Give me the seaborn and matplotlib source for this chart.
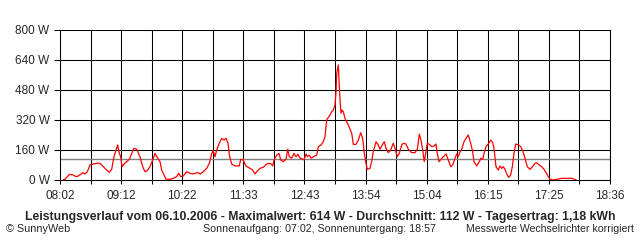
import matplotlib
matplotlib.use("Agg")
import matplotlib.pyplot as plt
import seaborn as sns
import pandas as pd
import numpy as np

# minutes since midnight
minutes = [485.5, 487.8, 492.7, 497.3, 500.4, 503.1, 508.2, 510.8, 513.5, 516.6,
           520.4, 524.3, 528.1, 531.9, 535.8, 538.8, 541.6, 544.2, 546.6, 548.5,
           550.4, 552.0, 553.5, 555.8, 558.9, 561.9, 564.7, 567.3, 570.4, 574.2,
           577.3, 580.0, 582.6, 585.7, 588.9, 591.5, 593.5, 597.3, 599.2, 601.9,
           604.2, 608.8, 612.6, 616.5, 618.8, 621.1, 624.1, 628.0, 631.9, 635.0,
           637.6, 641.4, 643.4, 647.2, 651.1, 654.1, 656.9, 658.7, 660.7, 662.6,
           665.6, 668.4, 671.0, 673.4, 675.7, 677.2, 679.9, 683.7, 688.7, 690.3,
           693.3, 696.1, 701.0, 704.1, 706.8, 708.7, 712.5, 716.4, 720.3, 722.9,
           725.6, 727.2, 728.7, 731.8, 734.5, 736.4, 739.4, 742.5, 744.5, 746.3,
           749.1, 751.7, 754.0, 756.3, 758.7, 761.8, 763.3, 765.6, 767.1, 769.4,
           771.3, 774.0, 777.9, 779.8, 782.9, 785.5, 787.5, 789.4, 793.2, 795.2,
           797.0, 799.0, 800.2, 801.0, 802.1, 802.8, 803.6, 804.8, 805.9, 807.1,
           808.6, 810.5, 814.3, 818.3, 820.1, 823.2, 825.9, 828.6, 830.9, 832.8,
           834.7, 836.2, 839.3, 841.3, 843.1, 846.3, 848.9, 850.9, 853.5, 855.8,
           857.8, 860.4, 863.2, 866.2, 868.2, 870.8, 873.1, 875.9, 877.7, 880.8,
           883.5, 887.4, 891.2, 893.9, 896.2, 898.1, 900.1, 901.9, 903.9, 905.4,
           907.7, 910.5, 913.1, 915.4, 916.9, 918.9, 921.2, 923.8, 927.0, 929.6,
           932.4, 934.7, 937.3, 939.3, 941.1, 943.1, 945.1, 947.7, 950.0, 952.7,
           955.4, 957.7, 959.2, 962.3, 965.3, 967.3, 969.3, 970.8, 973.1, 975.7,
           978.5, 980.8, 982.3, 984.6, 987.2, 989.2, 991.2, 993.0, 995.0, 996.9,
           999.2, 1001.5, 1003.4, 1005.3, 1007.3, 1010.3, 1013.1, 1015.4, 1018.0, 1020.7,
           1023.8, 1026.9, 1029.5, 1031.5, 1034.5, 1037.3, 1039.9, 1042.2, 1044.9, 1046.8,
           1050.6, 1055.3, 1060.3, 1066.1, 1071.9, 1074.5, 1076.8]

watts = [0, 4, 30, 27, 18, 21, 39, 32, 44, 80,
         85, 89, 89, 71, 53, 41, 57, 124, 160, 187,
         142, 124, 71, 85, 98, 110, 142, 169, 164, 124,
         71, 44, 50, 71, 107, 142, 124, 98, 53, 27,
         4, 4, 9, 18, 36, 18, 21, 44, 36, 32,
         36, 39, 32, 44, 62, 89, 142, 156, 124, 160,
         196, 222, 213, 222, 196, 133, 85, 75, 75, 110,
         107, 75, 62, 53, 32, 44, 62, 68, 85, 89,
         85, 75, 107, 133, 142, 107, 98, 110, 164, 124,
         116, 142, 124, 137, 116, 112, 107, 139, 124, 133,
         116, 124, 133, 178, 187, 204, 231, 320, 347, 364,
         373, 400, 471, 569, 596, 614, 533, 427, 356, 373,
         364, 329, 293, 249, 190, 190, 213, 252, 222, 142,
         89, 57, 62, 98, 151, 204, 187, 164, 187, 204,
         169, 146, 160, 196, 169, 124, 142, 187, 196, 192,
         164, 146, 146, 164, 245, 213, 160, 98, 151, 196,
         190, 178, 181, 192, 142, 98, 110, 124, 139, 107,
         71, 80, 116, 139, 124, 151, 164, 204, 222, 240,
         196, 151, 98, 75, 98, 116, 110, 142, 178, 192,
         213, 199, 169, 71, 53, 75, 62, 71, 57, 32,
         14, 27, 71, 142, 192, 187, 178, 156, 116, 71,
         57, 71, 89, 92, 80, 71, 57, 39, 18, 4,
         0, 4, 9, 9, 9, 5, 0]

tick_labels = ["08:02", "09:12", "10:22", "11:33", "12:43", "13:54",
               "15:04", "16:15", "17:25", "18:36"]
y_ticks = [0, 160, 320, 480, 640, 800]
y_tick_labels = ["0 W", "160 W", "320 W", "480 W", "640 W", "800 W"]
average_w = 112
start_min = 482
end_min = 1116

title = ("Leistungsverlauf vom 06.10.2006 - Maximalwert: 614 W - "
         "Durchschnitt: 112 W - Tagesertrag: 1,18 kWh")
footer_left = "© SunnyWeb"
footer_mid = "Sonnenaufgang: 07:02, Sonnenuntergang: 18:57"
footer_right = "Messwerte Wechselrichter korrigiert"

sns.set_style("white")
plt.rcParams['font.family'] = ['Liberation Sans', 'DejaVu Sans']

df = pd.DataFrame({"t": minutes, "w": watts})

fig = plt.figure(figsize=(6.4, 2.4), dpi=100)
fig.patch.set_facecolor("white")
ax = fig.add_axes([60 / 640, 60 / 240, 550 / 640, 150 / 240])
ax.set_facecolor("white")

major = np.linspace(start_min, end_min, len(tick_labels))
minor = (major[:-1] + major[1:]) / 2

ax.set_xlim(start_min, end_min)
ax.set_ylim(0, 800)
ax.set_xticks(major)
ax.set_xticklabels(tick_labels)
ax.set_xticks(minor, minor=True)
ax.set_yticks(y_ticks)
ax.set_yticklabels(y_tick_labels)

lw = 0.75
ax.grid(True, which="both", axis="x", color="black", linewidth=lw)
ax.grid(True, which="major", axis="y", color="black", linewidth=lw)
ax.set_axisbelow(True)
for s in ax.spines.values():
    s.set_color("black")
    s.set_linewidth(lw)

ax.tick_params(axis="x", which="both", length=3, width=lw, color="black",
               direction="out", pad=4, labelsize=8.5, bottom=True)
ax.tick_params(axis="y", which="major", length=4.5, width=lw, color="black",
               direction="out", pad=3, labelsize=8.5, left=True)

ax.axhline(average_w, color="#808080", linewidth=1.0, zorder=2)
sns.lineplot(data=df, x="t", y="w", ax=ax, color="#ff0000", linewidth=0.9,
             zorder=3, estimator=None, sort=False)
ax.set_xlabel("")
ax.set_ylabel("")

fig.text(0.5, 23 / 240, title, ha="center", va="center", fontsize=8.8,
         fontweight="bold")
fig.text(6 / 640, 11 / 240, footer_left, ha="left", va="center", fontsize=7.8)
fig.text(203 / 640, 11 / 240, footer_mid, ha="left", va="center", fontsize=7.7)
fig.text(634 / 640, 11 / 240, footer_right, ha="right", va="center", fontsize=7.6)

fig.savefig("out.png", dpi=100)
